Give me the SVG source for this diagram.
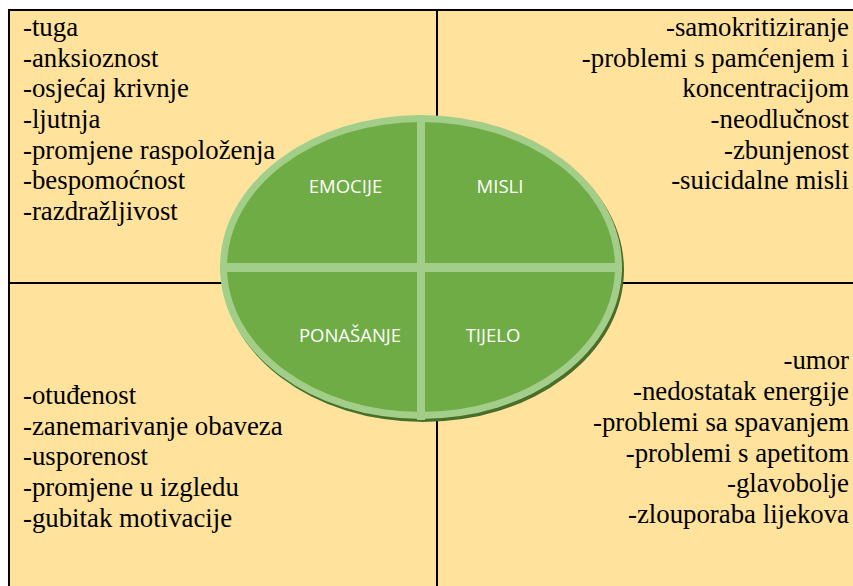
<svg xmlns="http://www.w3.org/2000/svg" width="853" height="586" viewBox="0 0 853 586">
<style>
.t{font-family:'Liberation Serif','Times New Roman',serif;font-size:26.8px;fill:#000}
.r{text-anchor:end}
.g{font-family:'Open Sans','Liberation Sans',sans-serif;font-size:18.5px;fill:#fff;text-anchor:middle}
.ln{stroke:#000;stroke-width:2;fill:none}
.rim{fill:#A3CE8A}
</style>
<rect x="0" y="0" width="853" height="586" fill="#fff"/>
<rect x="9" y="10" width="844" height="576" fill="#FFE29B"/>
<g id="grid">
<line class="ln" x1="8" y1="10" x2="853" y2="10"/>
<line class="ln" x1="9" y1="9" x2="9" y2="586"/>
<line class="ln" x1="437" y1="10" x2="437" y2="586"/>
<line class="ln" x1="9" y1="283" x2="853" y2="283"/>
</g>
<g id="emocije-list">
<text class="t" x="23" y="36">-tuga</text>
<text class="t" x="23" y="67">-anksioznost</text>
<text class="t" x="23" y="97">-osjećaj krivnje</text>
<text class="t" x="23" y="128">-ljutnja</text>
<text class="t" x="23" y="159">-promjene raspoloženja</text>
<text class="t" x="23" y="189">-bespomoćnost</text>
<text class="t" x="23" y="220">-razdražljivost</text>
</g>
<g id="misli-list">
<text class="t r" x="849" y="36">-samokritiziranje</text>
<text class="t r" x="849" y="67">-problemi s pamćenjem i</text>
<text class="t r" x="849" y="97">koncentracijom</text>
<text class="t r" x="849" y="128">-neodlučnost</text>
<text class="t r" x="849" y="159">-zbunjenost</text>
<text class="t r" x="849" y="189">-suicidalne misli</text>
</g>
<g id="ponasanje-list">
<text class="t" x="23" y="404">-otuđenost</text>
<text class="t" x="23" y="435">-zanemarivanje obaveza</text>
<text class="t" x="23" y="465">-usporenost</text>
<text class="t" x="23" y="496">-promjene u izgledu</text>
<text class="t" x="23" y="527">-gubitak motivacije</text>
</g>
<g id="tijelo-list">
<text class="t r" x="849" y="369">-umor</text>
<text class="t r" x="849" y="400">-nedostatak energije</text>
<text class="t r" x="849" y="431">-problemi sa spavanjem</text>
<text class="t r" x="849" y="462">-problemi s apetitom</text>
<text class="t r" x="849" y="492">-glavobolje</text>
<text class="t r" x="849" y="523">-zlouporaba lijekova</text>
</g>
<g id="circle">
<ellipse cx="423" cy="270" rx="201" ry="152" fill="#466F2A"/>
<ellipse class="rim" cx="421" cy="267" rx="201" ry="152"/>
<ellipse cx="421" cy="267" rx="194" ry="145" fill="#6FAC46"/>
<rect class="rim" x="417" y="115" width="8" height="305"/>
<rect class="rim" x="220" y="263" width="402" height="9"/>
</g>
<g id="emocije"><text class="g" x="345.5" y="193">EMOCIJE</text></g>
<g id="misli"><text class="g" x="500" y="193">MISLI</text></g>
<g id="ponasanje"><text class="g" x="350" y="342">PONAŠANJE</text></g>
<g id="tijelo"><text class="g" x="493" y="342">TIJELO</text></g>
</svg>
